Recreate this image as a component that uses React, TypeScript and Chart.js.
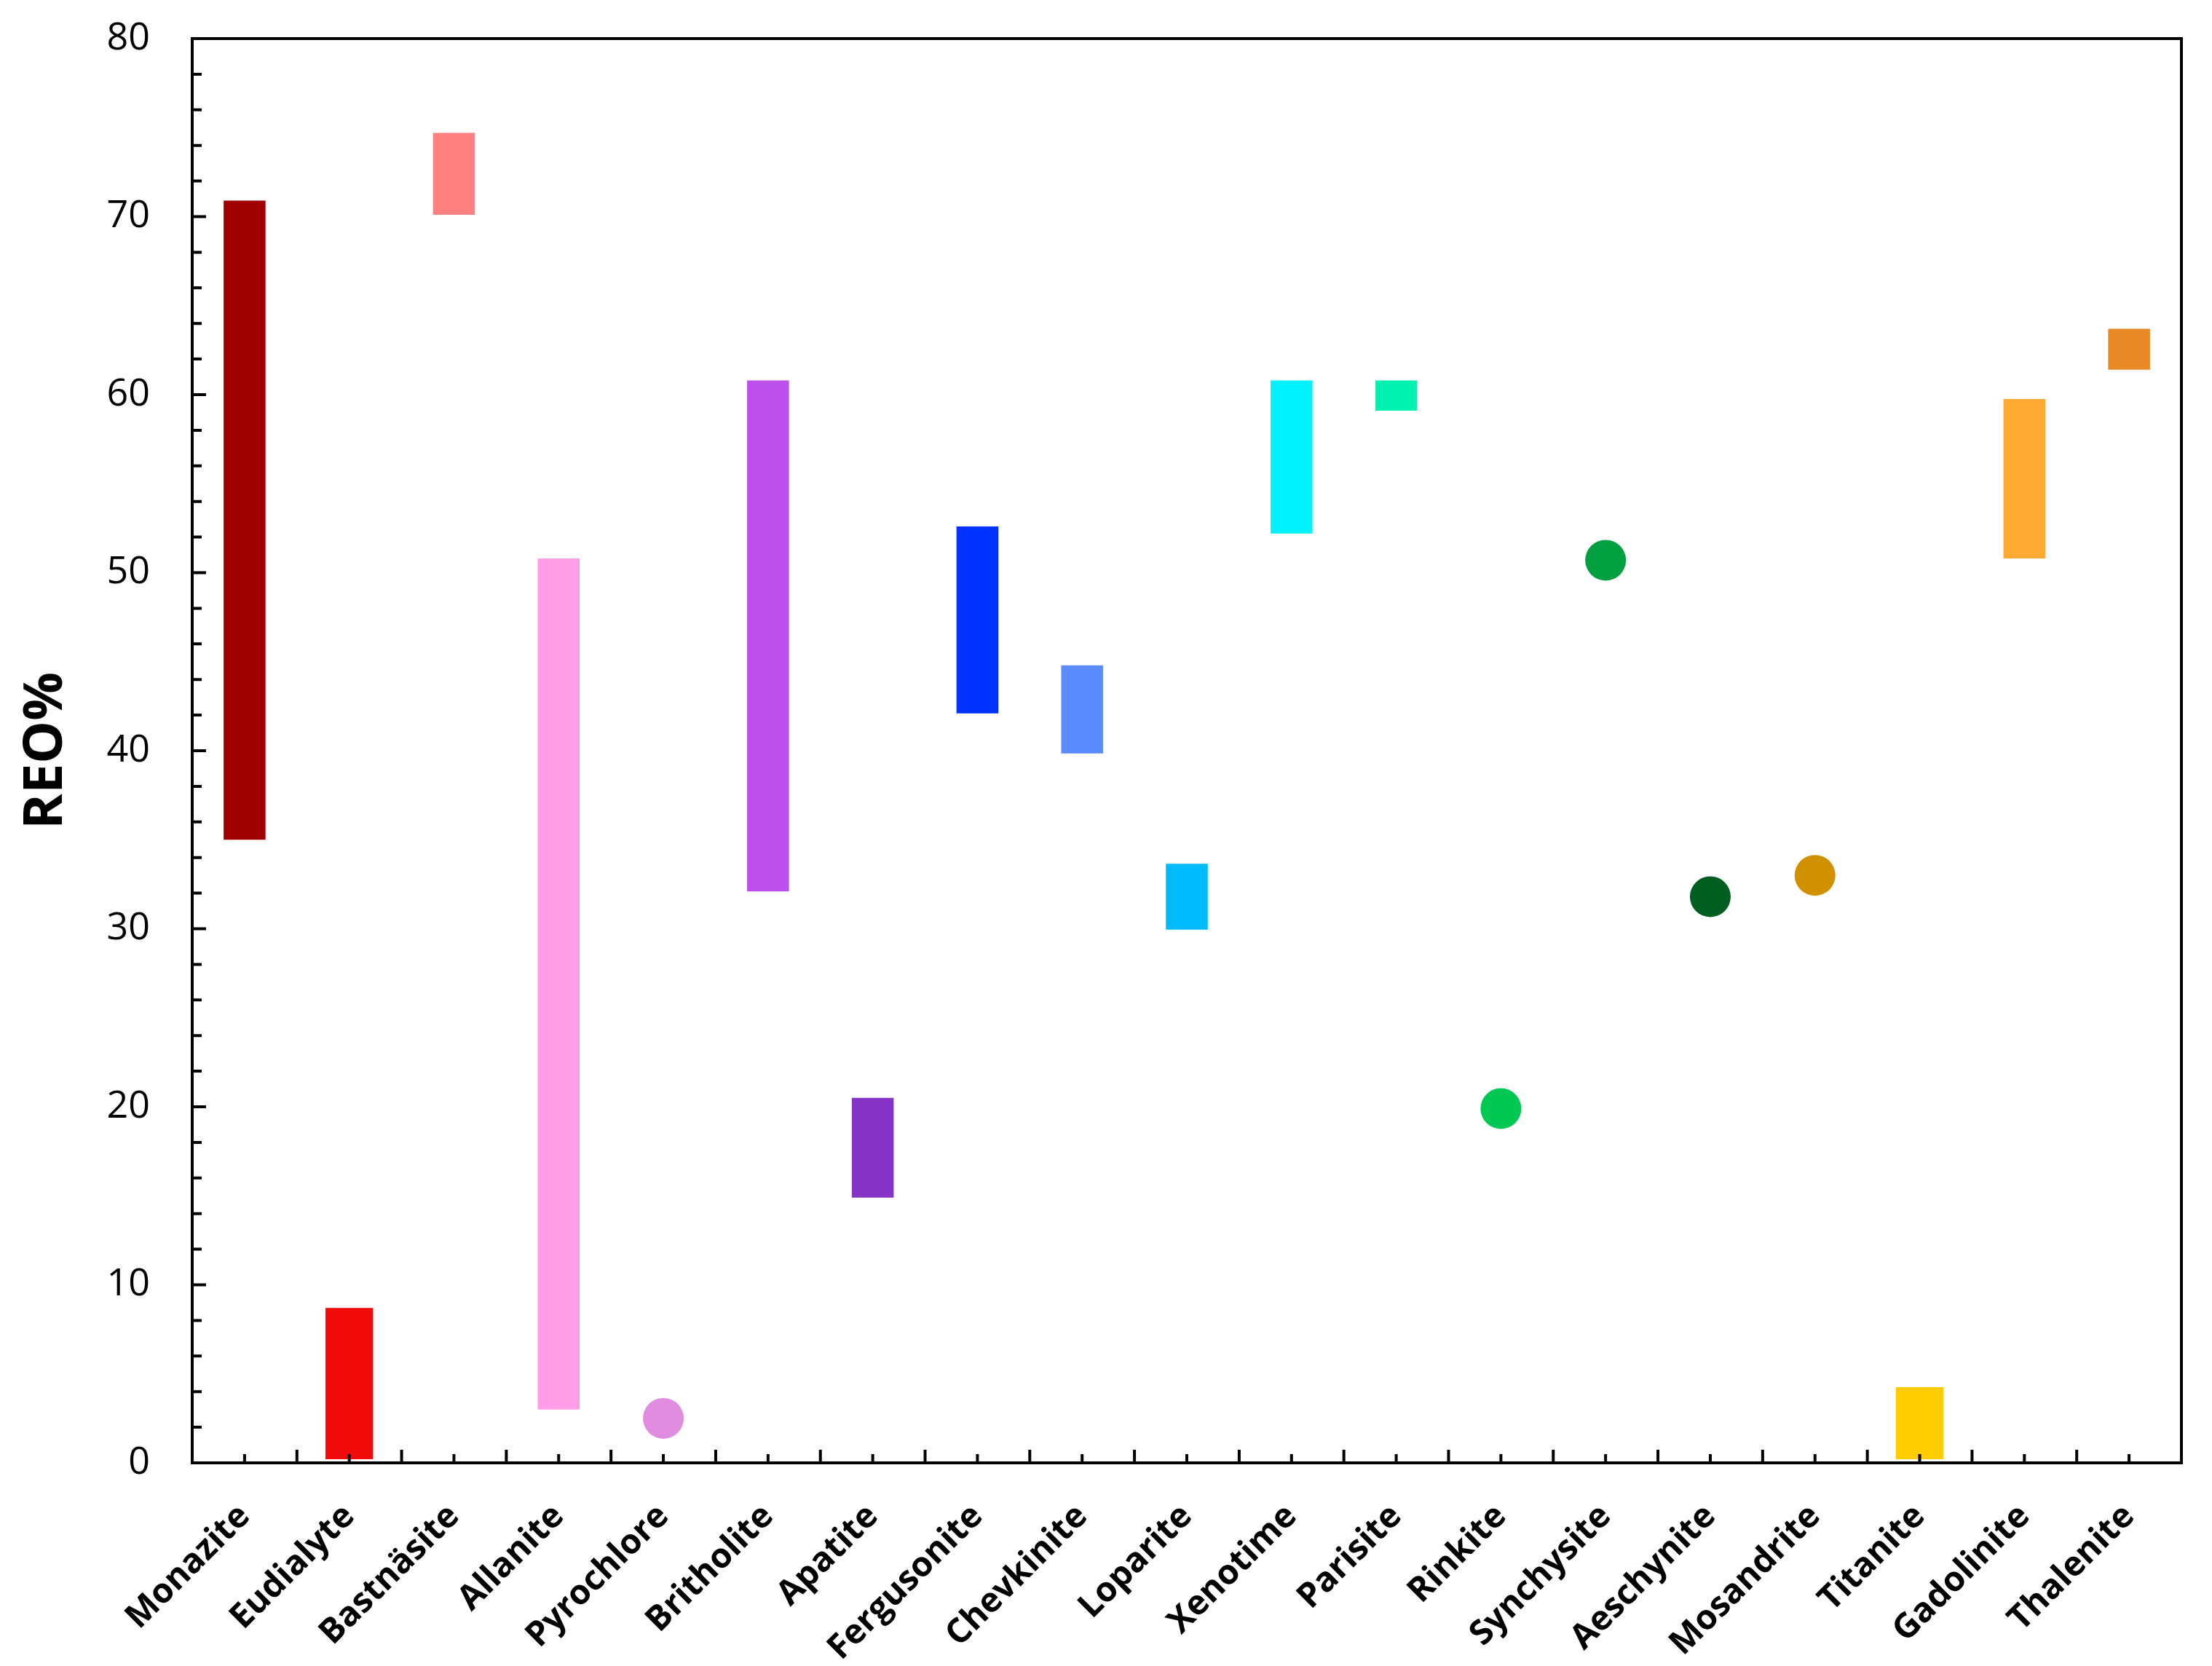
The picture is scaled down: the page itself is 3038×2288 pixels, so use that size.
import { useEffect, useRef } from "react";
import { Chart, registerables } from "chart.js";

Chart.register(...registerables);

const categories = [
  "Monazite", "Eudialyte", "Bastnäsite", "Allanite", "Pyrochlore", "Britholite",
  "Apatite", "Fergusonite", "Chevkinite", "Loparite", "Xenotime", "Parisite",
  "Rinkite", "Synchysite", "Aeschynite", "Mosandrite", "Titanite", "Gadolinite", "Thalenite",
];

// REO% range (low / high) for minerals drawn as bars
const rangeLow = [35.0, 0.2, 70.1, 3.0, null, 32.1, 14.9, 42.1, 39.85, 29.95, 52.2, 59.1, null, null, null, null, 0.2, 50.8, 61.4];
const rangeHigh = [70.9, 8.7, 74.7, 50.8, null, 60.8, 20.5, 52.6, 44.8, 33.65, 60.8, 60.8, null, null, null, null, 4.25, 59.75, 63.7];

// single REO% values for minerals drawn as dots
const pointValues = [null, null, null, null, 2.5, null, null, null, null, null, null, null, 19.9, 50.7, 31.8, 33.0, null, null, null];

// minerals whose bars are drawn a little wider
const wideBars = ["Eudialyte", "Titanite"];

const colors = [
  "#A00000", "#F00A0A", "#FF8080", "#FF9DE6", "#E08CE0", "#BD4FEB",
  "#8533C4", "#0033FF", "#5B8CFF", "#00BCFF", "#00F2FF", "#00F2B0",
  "#00C853", "#00A040", "#005E20", "#D09000", "#FFCC00", "#FFAA33", "#E88A28",
];

const yMin = 0;
const yMax = 80;
const yMajorStep = 10;
const yMinorStep = 2;

const FONT = "'Open Sans', 'Noto Sans', sans-serif";

const boxTicksPlugin = {
  id: "boxTicks",
  afterDatasetsDraw(chart: any) {
    const { ctx, chartArea: a, scales } = chart;
    const x = scales.x;
    const y = scales.y;
    ctx.save();
    ctx.strokeStyle = "#000";
    ctx.lineWidth = 4;
    ctx.lineCap = "butt";
    ctx.beginPath();
    for (let v = yMin; v <= yMax; v += yMinorStep) {
      const py = y.getPixelForValue(v);
      const len = v % yMajorStep === 0 ? 19 : 13;
      ctx.moveTo(a.left, py);
      ctx.lineTo(a.left + len, py);
    }
    for (let i = 0; i < categories.length; i++) {
      const c = x.getPixelForValue(i);
      ctx.moveTo(c, a.bottom);
      ctx.lineTo(c, a.bottom - 12);
      if (i > 0) {
        const b = (x.getPixelForValue(i - 1) + c) / 2;
        ctx.moveTo(b, a.bottom);
        ctx.lineTo(b, a.bottom - 18);
      }
    }
    ctx.stroke();
    ctx.strokeRect(a.left, a.top, a.right - a.left, a.bottom - a.top);
    ctx.restore();
  },
};

export default function App() {
  const ref = useRef<HTMLCanvasElement | null>(null);

  useEffect(() => {
    if (!ref.current) return;
    const normalData = categories.map((c, i) =>
      rangeLow[i] !== null && !wideBars.includes(c) ? [rangeLow[i], rangeHigh[i]] : null
    );
    const wideData = categories.map((c, i) =>
      rangeLow[i] !== null && wideBars.includes(c) ? [rangeLow[i], rangeHigh[i]] : null
    );
    const chart = new Chart(ref.current, {
      type: "bar",
      data: {
        labels: categories,
        datasets: [
          {
            type: "bar",
            data: normalData as any,
            backgroundColor: colors,
            borderWidth: 0,
            barPercentage: 0.4,
            categoryPercentage: 1,
            grouped: false,
          },
          {
            type: "bar",
            data: wideData as any,
            backgroundColor: colors,
            borderWidth: 0,
            barPercentage: 0.455,
            categoryPercentage: 1,
            grouped: false,
          },
          {
            type: "line",
            data: pointValues as any,
            showLine: false,
            pointRadius: 28,
            pointHoverRadius: 28,
            pointBorderWidth: 0,
            pointBackgroundColor: colors,
            pointBorderColor: colors,
          } as any,
        ],
      },
      options: {
        animation: false,
        responsive: true,
        maintainAspectRatio: false,
        layout: { padding: { top: 45, right: 34, left: 0, bottom: 0 } },
        plugins: {
          legend: { display: false },
          tooltip: { enabled: false },
        },
        scales: {
          x: {
            grid: { display: false, drawTicks: false },
            border: { display: false },
            ticks: {
              color: "#000",
              autoSkip: false,
              maxRotation: 45,
              minRotation: 45,
              padding: 46,
              font: { family: FONT, size: 47, weight: "bold" },
            },
            afterFit(scale: any) {
              scale.height = 271;
            },
          },
          y: {
            min: yMin,
            max: yMax,
            grid: { display: false, drawTicks: false },
            border: { display: false },
            ticks: {
              stepSize: yMajorStep,
              color: "#000",
              padding: 58,
              font: { family: FONT, size: 52 },
            },
            title: {
              display: true,
              text: "REO%",
              color: "#000",
              padding: { top: 12, bottom: 0 },
              font: { family: FONT, size: 74, weight: "bold" },
            },
            afterFit(scale: any) {
              scale.width = 256;
              scale.paddingTop = 0;
              scale.paddingBottom = 0;
            },
          },
        },
      },
      plugins: [boxTicksPlugin],
    });
    return () => chart.destroy();
  }, []);

  return (
    <div style={{ width: "3022px", height: "2272px", position: "relative" }}>
      <canvas ref={ref} />
    </div>
  );
}
